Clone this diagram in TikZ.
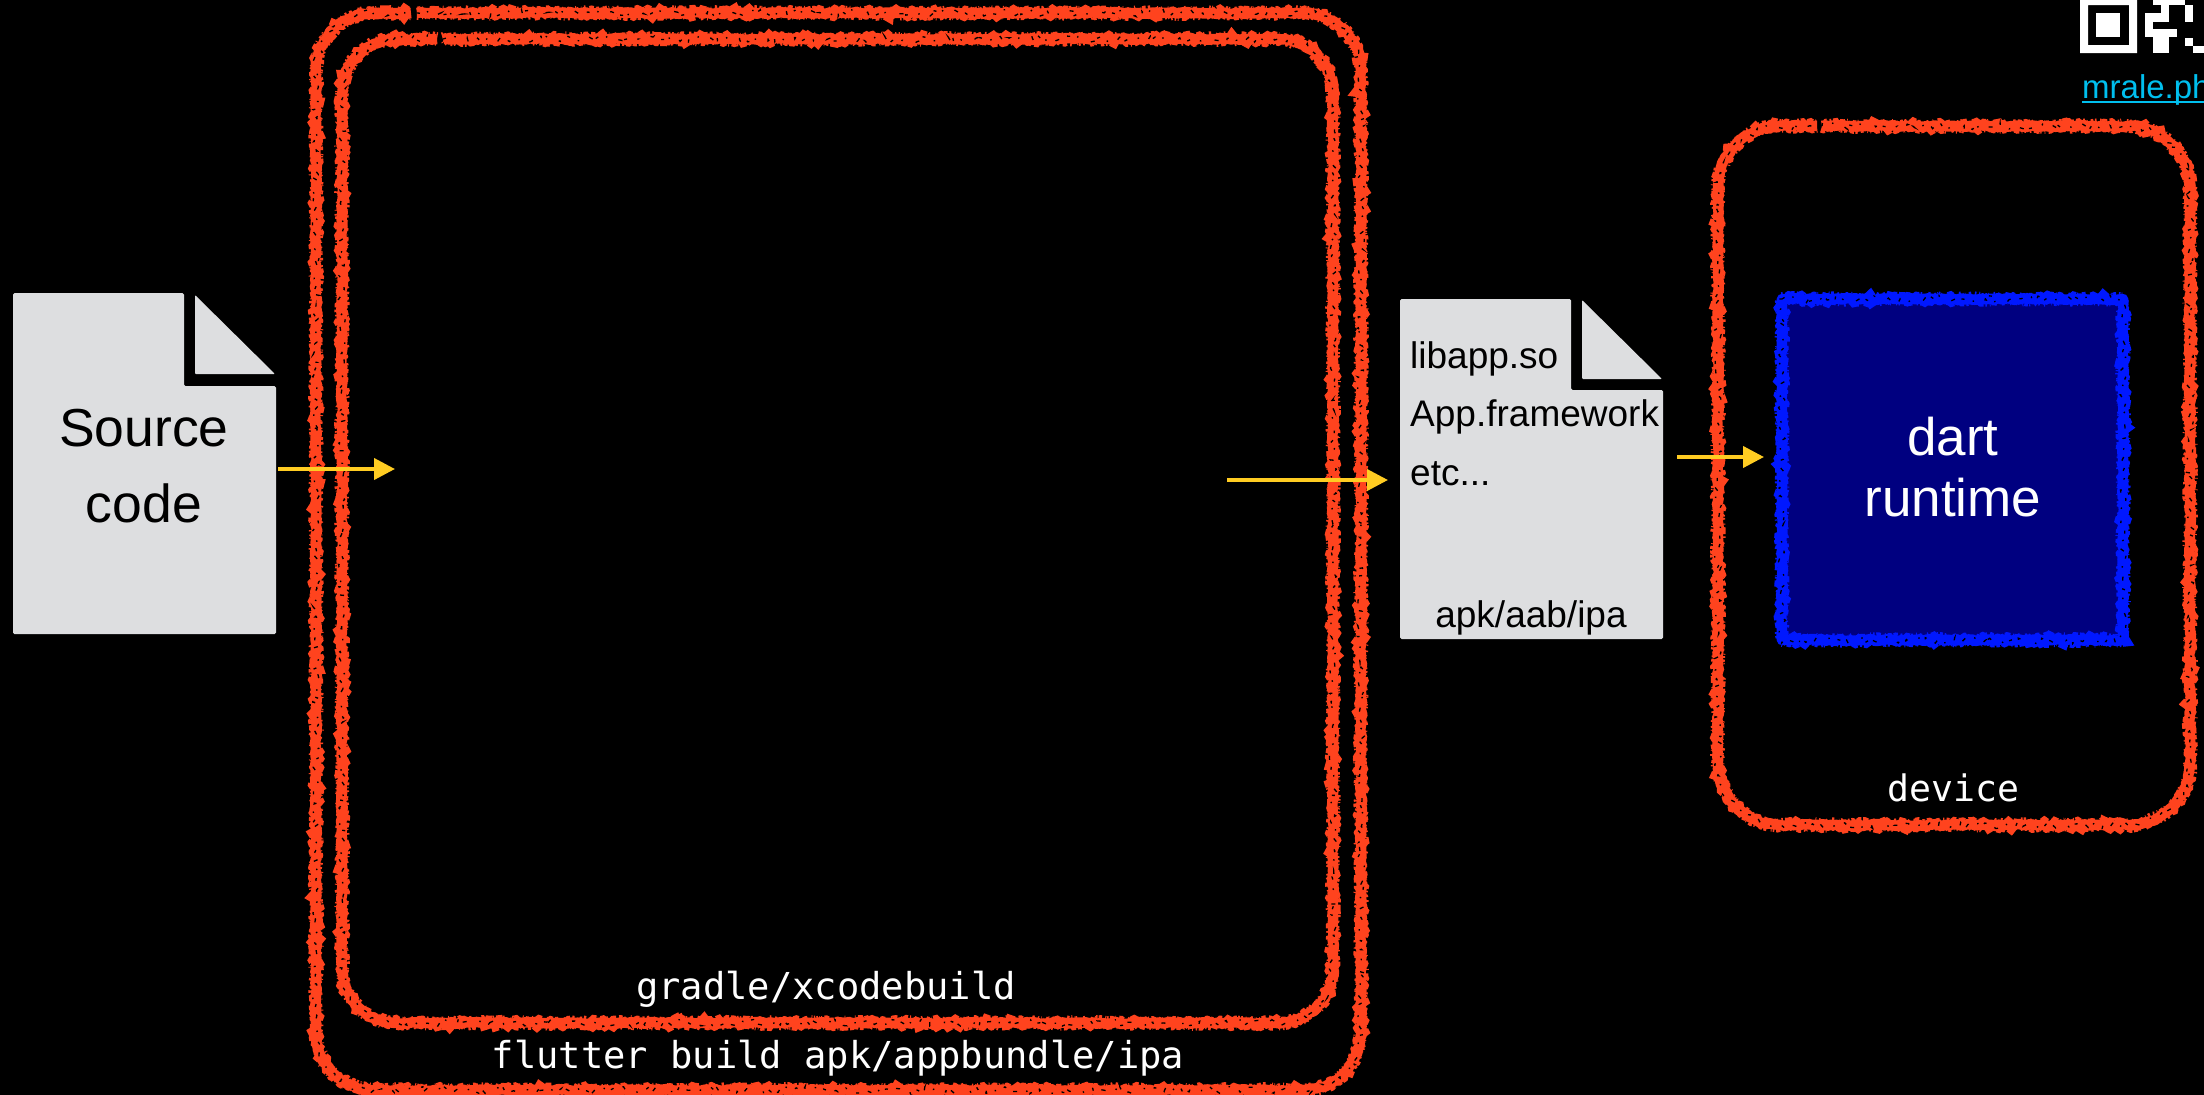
\documentclass[tikz,border=0pt]{standalone}
\usepackage{fontspec}
\setmainfont{Liberation Sans}
\newfontfamily\codefont{DejaVu Sans Mono}
\usetikzlibrary{arrows.meta,decorations.pathmorphing}
\definecolor{inkred}{HTML}{FF431E}
\definecolor{inkblue}{HTML}{0018FF}
\definecolor{navyfill}{HTML}{000080}
\definecolor{docgray}{HTML}{DDDEE0}
\definecolor{arrowgold}{HTML}{FFCC22}
\definecolor{linkcyan}{HTML}{00BFEE}
\tikzset{
  corestroke/.style={decorate,decoration={random steps,segment length=3.5pt,amplitude=1pt},line width=10.5pt,line join=round},
  bristle/.style={decorate,decoration={random steps,segment length=2.3pt,amplitude=1.2pt},line width=13.5pt,dash pattern=on 1.6pt off 2.2pt on 0.9pt off 3.1pt on 2.4pt off 1.7pt},
  fleck/.style={decorate,decoration={random steps,segment length=3pt,amplitude=3.6pt},line width=1.3pt,black,dash pattern=on 3pt off 11pt on 1.5pt off 17pt on 4pt off 9pt},
  flowarrow/.style={arrowgold,line width=4pt,-{Triangle[length=21pt,width=21pt]}},
  doctext/.style={text=black,inner sep=0pt,anchor=base},
  monotext/.style={text=white,inner sep=0pt,anchor=base},
}
% rough open rounded rectangle: x0,y0,x1,y1,r,startx,endx,colour
\newcommand\roughbox[8]{%
  \pgfmathsetmacro\rk{0.448*#5}%
  \foreach \sty/\col in {corestroke/#8,bristle/#8,fleck/black}{%
    \draw[\sty,draw=\col] (#6,#2) -- ({#3-#5},#2)
      .. controls ({#3-\rk},#2) and (#3,{#2+\rk}) .. (#3,{#2+#5})
      -- (#3,{#4-#5})
      .. controls (#3,{#4-\rk}) and ({#3-\rk},#4) .. ({#3-#5},#4)
      -- ({#1+#5},#4)
      .. controls ({#1+\rk},#4) and (#1,{#4-\rk}) .. (#1,{#4-#5})
      -- (#1,{#2+#5})
      .. controls (#1,{#2+\rk}) and ({#1+\rk},#2) .. ({#1+#5},#2)
      -- (#7,#2);
  }%
}
% document page: x0,y0,x1,y1,notchx,notchy,triangle x,triangle top,triangle bottom
\newcommand\docpage[9]{%
  \fill[docgray,rounded corners=1.5pt] (#1,#2) -- (#5,#2) -- (#5,#6) -- (#3,#6) -- (#3,#4) -- (#1,#4) -- cycle;
  \fill[docgray,rounded corners=1pt] (#7,#8) -- (#7,#9) -- ({#3-1},#9) -- cycle;
}
\begin{document}
\begin{tikzpicture}[x=1pt,y=-1pt]
\pgfmathsetseed{4242}
\useasboundingbox (0,0) rectangle (2204,1095);
\fill[black] (0,0) rectangle (2204,1095);

% QR fragment
\begin{scope}
\clip (0,0) rectangle (2204,1095);
\fill[white,even odd rule] (2080,-4) rectangle (2137,53) (2088,5) rectangle (2129,45);
\fill[white] (2096,13) rectangle (2120,37);
\fill[white] (2153,0) rectangle (2185,5);
\fill[white] (2161,5) rectangle (2169,13);
\fill[white] (2145,13) rectangle (2169,22);
\fill[white] (2145,22) rectangle (2153,37);
\fill[white] (2153,29) rectangle (2177,37);
\fill[white] (2153,37) rectangle (2169,53);
\fill[white] (2185,5) rectangle (2193,22);
\fill[white] (2185,38) rectangle (2193,46);
\fill[white] (2193,46) rectangle (2204,53);
\node[anchor=base west,inner sep=0pt,text=linkcyan,font=\fontsize{33}{38}\selectfont] (link) at (2082,98) {mrale.ph};
\fill[linkcyan] (2082,100.5) rectangle (2204,102.5);
\end{scope}

% frames
\roughbox{316}{13}{1361}{1090}{58}{417}{411}{inkred}
\roughbox{342}{39}{1333}{1023}{55}{443}{437}{inkred}
\roughbox{1718}{126}{2190}{825}{62}{1822}{1817}{inkred}

% dart runtime
\fill[navyfill] (1782,299) rectangle (2123,640);
\foreach \sty/\col in {corestroke/inkblue,bristle/inkblue,fleck/black}{%
  \draw[\sty,draw=\col] (1782,299) -- (2123,299) -- (2123,640) -- (1782,640) -- cycle;
}
\node[text=white,inner sep=0pt,align=center,font=\fontsize{53}{61}\selectfont] (runtime) at (1953,467.5) {dart\\runtime};

% documents
\docpage{13}{293}{276}{634}{184}{386}{195}{295}{374}
\docpage{1400}{299}{1663}{639}{1571}{390}{1582}{300}{379}
\node[text=black,inner sep=0pt,align=center,font=\fontsize{53.5}{76}\selectfont] (source) at (144,466.5) {Source\\code};
\node[text=black,inner sep=0pt,align=left,anchor=north west,font=\fontsize{37}{58.5}\selectfont] (contents) at (1410,341) {libapp.so\\App.framework\\etc...};
\node[doctext,font=\fontsize{37}{44}\selectfont] (bundle) at (1531,627) {apk/aab/ipa};

% mono labels
\node[monotext,font=\codefont\fontsize{37.1}{44}\selectfont] (gradle) at (826,999) {gradle/xcodebuild};
\node[monotext,font=\codefont\fontsize{37.1}{44}\selectfont] (flutter) at (838,1068) {flutter build apk/appbundle/ipa};
\node[monotext,font=\codefont\fontsize{36.5}{44}\selectfont] (device) at (1953.5,801) {device};

% arrows
\coordinate (a1s) at (278,469);
\coordinate (a1e) at (395,469);
\coordinate (a2s) at (1227,480);
\coordinate (a2e) at (1388,480);
\coordinate (a3s) at (1677,457);
\coordinate (a3e) at (1764,457);
\draw[flowarrow] (a1s) -- (a1e);
\draw[flowarrow] (a2s) -- (a2e);
\draw[flowarrow] (a3s) -- (a3e);
\end{tikzpicture}
\end{document}
